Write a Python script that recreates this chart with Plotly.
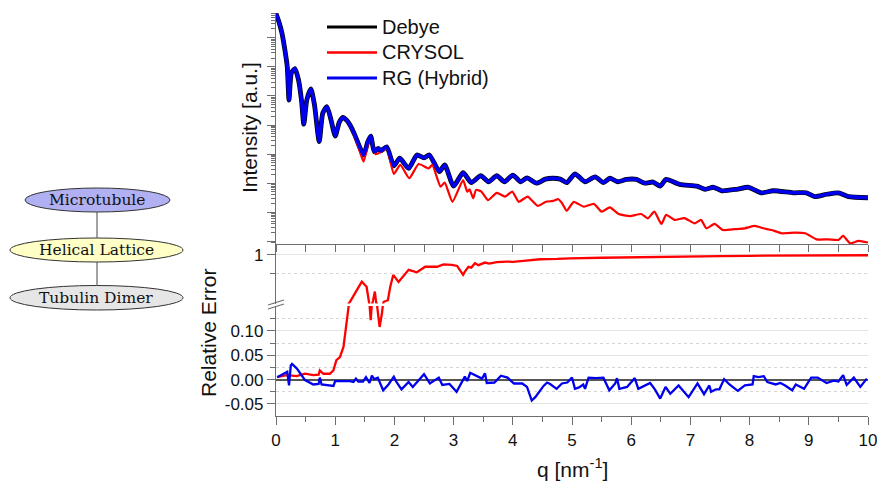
import numpy as np
import plotly.graph_objects as go

# ---- data ----
# scattering intensity (log10 of a.u.), Debye and RG (Hybrid) overlap completely at this scale
q_int = [0.0, 0.05, 0.1, 0.15, 0.19, 0.22, 0.26, 0.32, 0.38, 0.43, 0.47, 0.52, 0.59, 0.65,
         0.73, 0.79, 0.86, 0.93, 1.0, 1.07, 1.13, 1.2, 1.25, 1.33, 1.42, 1.48, 1.55, 1.6,
         1.66, 1.73, 1.77, 1.87, 1.99, 2.09, 2.24, 2.38, 2.5, 2.59, 2.76, 2.85, 3.0, 3.16,
         3.3, 3.46, 3.59, 3.73, 3.86, 4.0, 4.13, 4.24, 4.4, 4.55, 4.68, 4.8, 4.91, 5.05,
         5.22, 5.39, 5.53, 5.64, 5.77, 5.92, 6.09, 6.23, 6.37, 6.49, 6.59, 6.82, 7.11, 7.25,
         7.39, 7.53, 7.78, 7.98, 8.2, 8.4, 8.74, 8.96, 9.1, 9.3, 9.5, 9.67, 10.0]
debye_log10 = [0.83, 0.54, 0.16, -0.42, -1.0, -2.14, -1.21, -1.06, -1.45, -2.14, -2.97, -2.14, -1.76, -2.31,
               -3.57, -2.59, -2.37, -2.83, -3.38, -2.9, -2.74, -2.85, -3.0, -3.34, -3.79, -4.03, -3.58, -3.38,
               -3.92, -3.8, -3.89, -3.75, -4.4, -4.14, -4.49, -4.03, -4.13, -4.03, -4.6, -4.37, -5.1, -4.64,
               -4.98, -4.74, -4.95, -4.74, -4.95, -4.72, -4.95, -4.82, -5.0, -4.86, -4.83, -4.86, -4.98, -4.68,
               -4.95, -4.78, -4.98, -4.83, -4.95, -4.87, -4.87, -5.0, -4.96, -5.1, -4.87, -5.04, -5.1, -5.21,
               -5.14, -5.26, -5.21, -5.14, -5.33, -5.26, -5.33, -5.33, -5.46, -5.38, -5.33, -5.46, -5.5]
rg_log10 = debye_log10

q_crysol = [0.0, 0.05, 0.1, 0.15, 0.19, 0.22, 0.26, 0.32, 0.38, 0.43, 0.47, 0.52, 0.59, 0.65,
            0.73, 0.79, 0.86, 0.93, 1.0, 1.07, 1.13, 1.2, 1.25, 1.33, 1.42, 1.48, 1.55, 1.6,
            1.68, 1.77, 1.87, 1.99, 2.1, 2.25, 2.41, 2.58, 2.64, 2.78, 2.85, 2.98, 3.16, 3.23,
            3.27, 3.33, 3.38, 3.47, 3.58, 3.73, 3.87, 3.99, 4.1, 4.25, 4.42, 4.56, 4.68, 4.77,
            4.83, 4.91, 5.03, 5.2, 5.37, 5.5, 5.64, 5.79, 5.98, 6.17, 6.28, 6.39, 6.51, 6.59,
            6.73, 6.9, 7.07, 7.18, 7.27, 7.41, 7.55, 7.75, 7.92, 8.09, 8.23, 8.37, 8.54, 8.77,
            8.94, 9.13, 9.33, 9.5, 9.58, 9.7, 9.84, 10.0]
crysol_log10 = [0.83, 0.54, 0.16, -0.42, -1.0, -2.14, -1.21, -1.06, -1.45, -2.14, -2.97, -2.14, -1.76, -2.31,
                -3.57, -2.59, -2.37, -2.83, -3.38, -2.9, -2.74, -2.86, -3.03, -3.41, -3.93, -4.26, -3.69, -3.41,
                -4.0, -3.93, -3.8, -4.68, -4.37, -4.83, -4.34, -4.49, -4.37, -5.12, -4.98, -5.64, -4.89, -5.29,
                -5.21, -5.52, -5.23, -5.29, -5.58, -5.33, -5.46, -5.29, -5.64, -5.46, -5.78, -5.64, -5.61, -5.55,
                -5.68, -5.95, -5.64, -5.81, -5.71, -5.98, -5.83, -6.06, -6.13, -6.06, -6.21, -5.98, -6.4, -6.09,
                -6.26, -6.2, -6.38, -6.26, -6.55, -6.4, -6.61, -6.58, -6.55, -6.47, -6.55, -6.61, -6.72, -6.7,
                -6.72, -6.93, -6.93, -6.95, -6.81, -7.07, -6.98, -7.04]

# relative error vs Debye
q_err_crysol = [0.02, 0.18, 0.35, 0.49, 0.63, 0.72, 0.74, 0.8, 0.91, 0.97, 1.02, 1.08, 1.14, 1.18,
                1.22, 1.25, 1.31, 1.38, 1.45, 1.53, 1.57, 1.6, 1.64, 1.67, 1.69, 1.75, 1.79, 1.82,
                1.89, 1.93, 1.98, 2.07, 2.24, 2.38, 2.52, 2.72, 2.83, 2.97, 3.06, 3.16, 3.2, 3.25,
                3.3, 3.36, 3.42, 3.53, 3.6, 3.73, 3.9, 4.0, 4.18, 4.46, 4.75, 4.97, 5.5, 6.0,
                6.5, 7.0, 7.5, 8.0, 8.5, 9.0, 9.5, 10.0]
err_crysol = [0.005, 0.009, 0.007, 0.012, 0.009, 0.010, 0.019, 0.012, 0.012, 0.019, 0.04, 0.046, 0.067, 0.108,
              0.155, 0.17, 0.22, 0.28, 0.364, 0.30, 0.17, 0.122, 0.18, 0.25, 0.17, 0.108, 0.136, 0.17,
              0.18, 0.30, 0.47, 0.36, 0.57, 0.52, 0.64, 0.64, 0.70, 0.69, 0.66, 0.47, 0.55, 0.64,
              0.62, 0.73, 0.68, 0.75, 0.72, 0.76, 0.78, 0.77, 0.80, 0.85, 0.86, 0.88, 0.90, 0.92,
              0.93, 0.95, 0.955, 0.97, 0.975, 0.98, 0.985, 0.99]

q_err_rg = [0.02, 0.12, 0.19, 0.22, 0.25, 0.27, 0.35, 0.49, 0.63, 0.72, 0.74, 0.77, 0.97, 1.0,
            1.25, 1.31, 1.35, 1.39, 1.47, 1.52, 1.58, 1.62, 1.66, 1.72, 1.81, 1.9, 1.99, 2.03,
            2.12, 2.24, 2.31, 2.5, 2.6, 2.75, 2.81, 2.93, 3.05, 3.19, 3.23, 3.28, 3.42, 3.48,
            3.53, 3.56, 3.69, 3.8, 3.91, 4.02, 4.16, 4.24, 4.32, 4.38, 4.52, 4.58, 4.63, 4.74,
            4.83, 4.92, 5.0, 5.05, 5.12, 5.19, 5.22, 5.28, 5.4, 5.53, 5.63, 5.73, 5.76, 5.8,
            5.93, 6.06, 6.12, 6.32, 6.4, 6.49, 6.58, 6.66, 6.8, 6.97, 7.12, 7.18, 7.23, 7.32,
            7.35, 7.43, 7.49, 7.57, 7.66, 7.8, 7.92, 8.05, 8.07, 8.15, 8.24, 8.3, 8.44, 8.52,
            8.6, 8.72, 8.78, 8.92, 9.04, 9.15, 9.3, 9.42, 9.5, 9.58, 9.64, 9.76, 9.87, 9.98]
err_rg = [0.005, 0.012, 0.016, -0.012, 0.029, 0.032, 0.023, -0.001, -0.010, -0.009, 0.004, -0.010, -0.013, -0.003,
          -0.003, -0.005, 0.002, -0.004, -0.004, 0.005, -0.007, 0.008, 0.001, 0.004, -0.022, -0.010, 0.006, -0.004,
          -0.020, -0.005, -0.015, 0.011, -0.008, 0.004, -0.011, -0.009, -0.025, 0.006, -0.003, 0.014, 0.005, 0.002,
          0.013, -0.007, -0.006, 0.008, 0.004, -0.008, -0.008, -0.015, -0.043, -0.036, -0.013, -0.006, -0.009, -0.019,
          -0.008, -0.006, 0.004, -0.019, -0.016, -0.010, -0.019, 0.004, 0.003, 0.004, -0.022, -0.008, 0.003, -0.019,
          -0.015, 0.003, -0.019, -0.007, -0.020, -0.039, -0.015, -0.029, -0.012, -0.036, -0.008, -0.020, -0.030, -0.012,
          -0.025, -0.020, -0.020, 0.001, -0.010, -0.023, -0.012, -0.010, 0.007, 0.005, 0.007, -0.005, -0.010, -0.007,
          -0.012, -0.022, -0.010, -0.019, 0.004, 0.004, -0.007, -0.002, -0.004, 0.009, -0.011, 0.004, -0.015, 0.002]

series_names = ["Debye", "CRYSOL", "RG (Hybrid)"]
series_colors = ["#000000", "#ff0000", "#0000ee"]

hierarchy = ["Microtubule", "Helical Lattice", "Tubulin Dimer"]
hierarchy_fill = ["#b0b0f2", "#ffffc6", "#e6e6e6"]

# ---- layout helpers (pixel -> paper) ----
W, H = 877, 482
ML, MR, MT, MB = 276, 9, 13, 66
PW, PH = W - ML - MR, H - MT - MB


def px(x):
    return (x - ML) / PW


def py(y):
    return (H - MB - y) / PH


axc = "#6e6e6e"
tickfont = dict(family="Liberation Sans, Arial", size=17, color="#111")

fig = go.Figure()

# top: intensities
fig.add_trace(go.Scatter(x=q_int, y=10 ** np.array(debye_log10), name=series_names[0], mode="lines",
                         line=dict(color=series_colors[0], width=4.8, shape="spline", smoothing=0.6),
                         xaxis="x", yaxis="y"))
fig.add_trace(go.Scatter(x=q_crysol, y=10 ** np.array(crysol_log10), name=series_names[1], mode="lines",
                         line=dict(color=series_colors[1], width=2.2, shape="spline", smoothing=0.5),
                         xaxis="x", yaxis="y"))
fig.add_trace(go.Scatter(x=q_int, y=10 ** np.array(rg_log10), name=series_names[2], mode="lines",
                         line=dict(color=series_colors[2], width=3.5, shape="spline", smoothing=0.6),
                         xaxis="x", yaxis="y"))

# bottom: relative error on a broken axis (upper log part, lower linear part)
for ya in ["y2", "y3"]:
    fig.add_trace(go.Scatter(x=q_err_crysol, y=err_crysol, mode="lines",
                             line=dict(color=series_colors[1], width=2.3), xaxis="x2", yaxis=ya))
fig.add_trace(go.Scatter(x=q_err_rg, y=err_rg, mode="lines",
                         line=dict(color=series_colors[2], width=2.3), xaxis="x2", yaxis="y3"))

top_lo = py(244)
up_lo, up_hi = py(303.5), py(245)
low_hi = py(306)

fig.update_layout(
    width=W, height=H,
    margin=dict(l=ML, r=MR, t=MT, b=MB),
    plot_bgcolor="white", paper_bgcolor="white",
    font=dict(family="Liberation Sans, Arial", color="#111"),
    showlegend=False,
    xaxis=dict(domain=[0, 1], anchor="y", range=[0, 10], showline=True, linecolor=axc, linewidth=1.2,
               ticks="outside", ticklen=7, tickcolor=axc, dtick=1, showticklabels=False,
               showgrid=False, zeroline=False, automargin=False,
               minor=dict(dtick=0.5, ticks="outside", ticklen=7, tickcolor=axc)),
    xaxis2=dict(domain=[0, 1], anchor="y3", range=[0, 10], showline=True, linecolor=axc, linewidth=1.2,
                ticks="outside", ticklen=8, tickcolor=axc, dtick=1, tickfont=tickfont,
                ticklabeloverflow="allow", showgrid=False, zeroline=False, automargin=False,
                minor=dict(dtick=0.5, ticks="outside", ticklen=5, tickcolor=axc)),
    yaxis=dict(domain=[top_lo, 1], anchor="x", type="log", range=[-7.09, 0.85], showline=True,
               linecolor=axc, linewidth=1.2, ticks="outside", ticklen=8, tickcolor=axc, dtick=1,
               showticklabels=False, showgrid=False, zeroline=False, automargin=False,
               minor=dict(ticks="outside", ticklen=4, tickcolor=axc)),
    yaxis2=dict(domain=[up_lo, up_hi], anchor="x2", type="log", range=[-0.798, 0.164], showline=True,
                linecolor=axc, linewidth=1.2, ticks="outside", ticklen=8, tickcolor=axc,
                tickvals=[1], ticktext=["1"], tickfont=tickfont, ticklabeloverflow="allow",
                showgrid=True, gridcolor="#e4e4e4", gridwidth=1, zeroline=False, automargin=False,
                minor=dict(tickvals=[0.5], ticks="outside", ticklen=5, tickcolor=axc,
                           showgrid=True, gridcolor="#d6d6d6", griddash="dot")),
    yaxis3=dict(domain=[0, low_hi], anchor="x2", range=[-0.0747, 0.151], showline=True,
                linecolor=axc, linewidth=1.2, ticks="outside", ticklen=8, tickcolor=axc,
                tickvals=[-0.05, 0, 0.05, 0.1], ticktext=["-0.05", "0.00", "0.05", "0.10"],
                tickfont=tickfont, showgrid=True, gridcolor="#e4e4e4", gridwidth=1, automargin=False,
                zeroline=True, zerolinecolor="#555555", zerolinewidth=1.5,
                minor=dict(tickvals=[-0.025, 0.025, 0.075, 0.125], ticks="outside", ticklen=5,
                           tickcolor=axc, showgrid=True, gridcolor="#d6d6d6", griddash="dot")),
)


def label(text, x, y, size, angle=0, family="Liberation Sans, Arial", xanchor="center"):
    fig.add_annotation(text=text, x=px(x), y=py(y), xref="paper", yref="paper",
                       xanchor=xanchor, yanchor="middle", textangle=angle, showarrow=False,
                       font=dict(size=size, family=family, color="#111"))


# axis titles
label("Intensity [a.u.]", 249, 128, 21, angle=-90)
label("Relative Error", 208, 333, 21, angle=-90)
label("q [nm<sup>-1</sup>]", 572, 468, 21)

# legend drawn by hand so the swatches match the original length
for i, (name, color) in enumerate(zip(series_names, series_colors)):
    ly = 27 + 25.5 * i
    fig.add_shape(type="line", xref="paper", yref="paper", x0=px(327), x1=px(377), y0=py(ly), y1=py(ly),
                  line=dict(color=color, width=3.2 if i != 1 else 2.4))
    label(name, 380, ly, 20, xanchor="left")

# axis break marks
for dy in (0, 4):
    fig.add_shape(type="line", xref="paper", yref="paper",
                  x0=px(268), y0=py(305 + dy), x1=px(284), y1=py(300 + dy),
                  line=dict(color=axc, width=1.2))

# hierarchy diagram on the left
boxes = [(25, 170, 188, 212), (10, 183, 238, 262), (10, 183, 285.5, 310)]
for (x0, x1, y0, y1), name, fill in zip(boxes, hierarchy, hierarchy_fill):
    fig.add_shape(type="circle", xref="paper", yref="paper",
                  x0=px(x0), x1=px(x1), y0=py(y1), y1=py(y0),
                  fillcolor=fill, line=dict(color="#333333", width=1))
    label(name, (x0 + x1) / 2, (y0 + y1) / 2, 15.5, family="DejaVu Serif")
for y0, y1 in [(212, 238), (262, 285.5)]:
    fig.add_shape(type="line", xref="paper", yref="paper",
                  x0=px(97), x1=px(97), y0=py(y0), y1=py(y1),
                  line=dict(color="#444444", width=1))

fig.write_html("out.html", config={"displayModeBar": False},
               post_script="document.body.style.margin='0';")
